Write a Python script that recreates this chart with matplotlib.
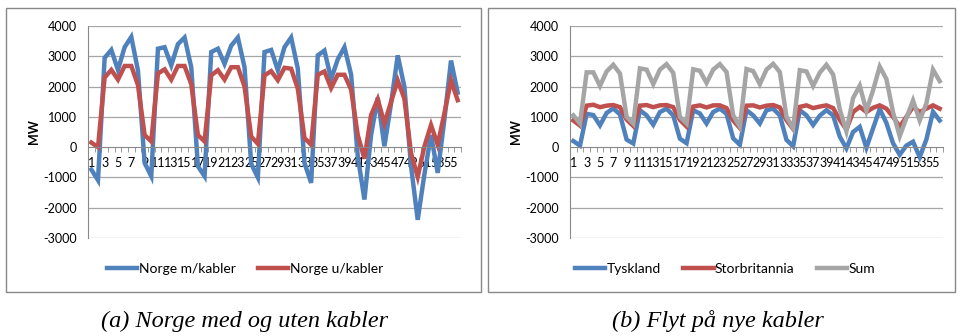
import matplotlib
matplotlib.use('Agg')
import matplotlib.pyplot as plt
from matplotlib.patches import Rectangle
import numpy as np

# Colours (Excel-style theme)
BLUE = '#4F81BD'
RED = '#C0504D'
GRAY = '#A5A5A5'
GRID = '#A6A6A6'
AXIS = '#888888'

plt.rcParams['font.family'] = ['Lato', 'DejaVu Sans']

# Data (MW), 56 periods
periods = list(range(1, 57))

norge_m_kabler = [-740, -1090, 2950, 3210, 2550, 3300, 3640, 2530,
                  -520, -960, 3250, 3300, 2700, 3400, 3620, 2640,
                  -630, -960, 3140, 3250, 2750, 3350, 3620, 2640,
                  -550, -1000, 3140, 3210, 2540, 3300, 3620, 2590,
                  -520, -1180, 3030, 3190, 2250, 2900, 3300, 2400,
                  -300, -1730, 400, 1630, 30, 1440, 3030, 1990,
                  -630, -2400, -900, 400, -850, 900, 2860, 1800]

norge_u_kabler = [150, 0, 2300, 2550, 2230, 2680, 2680, 2050,
                  400, 190, 2430, 2570, 2230, 2680, 2680, 2080,
                  400, 190, 2370, 2540, 2230, 2640, 2640, 2000,
                  350, 110, 2370, 2510, 2210, 2620, 2590, 1930,
                  300, 80, 2390, 2500, 1950, 2390, 2390, 1900,
                  400, -380, 1060, 1580, 780, 1500, 2200, 1600,
                  -200, -980, 20, 730, 80, 1110, 2200, 1550]

tyskland = [200, 50, 1100, 1060, 720, 1130, 1280, 1080,
            250, 120, 1220, 1050, 740, 1160, 1270, 1050,
            280, 130, 1220, 1110, 780, 1160, 1270, 1100,
            290, 80, 1220, 1050, 780, 1220, 1270, 1050,
            240, 30, 1220, 1050, 730, 1040, 1220, 1050,
            350, -40, 500, 670, -20, 620, 1260, 800,
            130, -250, 50, 180, -330, 250, 1170, 880]

storbritannia = [880, 710, 1370, 1400, 1320, 1370, 1390, 1320,
                 910, 700, 1370, 1390, 1320, 1380, 1390, 1320,
                 900, 680, 1340, 1380, 1310, 1380, 1380, 1290,
                 880, 630, 1370, 1380, 1310, 1370, 1390, 1310,
                 890, 600, 1330, 1380, 1290, 1340, 1380, 1290,
                 900, 580, 1160, 1330, 1160, 1300, 1380, 1270,
                 1000, 670, 1000, 1330, 1160, 1270, 1380, 1270]

sum_flyt = [1050, 780, 2470, 2470, 2020, 2500, 2720, 2430,
            1000, 780, 2600, 2560, 2080, 2560, 2740, 2450,
            1000, 780, 2570, 2520, 2120, 2560, 2740, 2480,
            1050, 680, 2580, 2510, 2080, 2560, 2750, 2480,
            1000, 620, 2540, 2500, 2020, 2460, 2720, 2400,
            1250, 520, 1620, 2030, 1200, 1880, 2660, 2250,
            1150, 360, 960, 1540, 880, 1440, 2560, 2180]

y_ticks = [-3000, -2000, -1000, 0, 1000, 2000, 3000, 4000]
x_tick_labels = [str(p) for p in periods if p % 2 == 1]

captions = ['(a) Norge med og uten kabler', '(b) Flyt på nye kabler']

W, H = 958, 336
fig = plt.figure(figsize=(W / 100, H / 100), dpi=100)


def style_axes(ax):
    ax.set_xlim(0.5, 56.5)
    ax.set_ylim(-3000, 4000)
    ax.set_yticks(y_ticks)
    ax.set_yticklabels([str(v) for v in y_ticks], fontsize=9)
    ax.tick_params(axis='y', length=0, pad=8)
    for v in y_ticks:
        if v != 0:
            ax.axhline(v, color=GRID, lw=0.9, zorder=0)
    for s in ['top', 'right']:
        ax.spines[s].set_visible(False)
    ax.spines['left'].set_color(AXIS)
    ax.spines['bottom'].set_color(AXIS)
    ax.spines['bottom'].set_position(('data', 0))
    ax.set_xticks([p for p in periods if p % 2 == 1])
    ax.set_xticklabels(x_tick_labels, fontsize=9)
    ax.set_xticks(np.arange(0.5, 57, 1), minor=True)
    ax.tick_params(axis='x', which='major', length=0, pad=7)
    ax.tick_params(axis='x', which='minor', length=3.5, color=AXIS, direction='out')
    ax.set_ylabel('MW', fontsize=9, fontweight='bold')
    ax.yaxis.set_label_coords(-0.128, 0.5)


# Chart area borders
fig.patches.append(Rectangle((6 / W, 1 - 292 / H), 475 / W, 284 / H, transform=fig.transFigure,
                             fill=False, edgecolor=AXIS, lw=1))
fig.patches.append(Rectangle((488 / W, 1 - 292 / H), 467 / W, 284 / H, transform=fig.transFigure,
                             fill=False, edgecolor=AXIS, lw=1))

ax_b = 1 - 238 / H
ax_h = 212 / H

# (a) Norge med og uten kabler
ax1 = fig.add_axes([88 / W, ax_b, 373 / W, ax_h])
style_axes(ax1)
ax1.plot(periods, norge_m_kabler, color=BLUE, lw=3.2, label='Norge m/kabler', solid_joinstyle='miter')
ax1.plot(periods, norge_u_kabler, color=RED, lw=3.2, label='Norge u/kabler', solid_joinstyle='miter')
ax1.legend(loc='center', bbox_to_anchor=(245 / W, 1 - 269 / H), bbox_transform=fig.transFigure,
           ncol=2, frameon=False, fontsize=10, handlelength=2.2, handletextpad=0.1,
           columnspacing=1.6)

# (b) Flyt på nye kabler
ax2 = fig.add_axes([570 / W, ax_b, 373 / W, ax_h])
style_axes(ax2)
ax2.plot(periods, tyskland, color=BLUE, lw=3.2, label='Tyskland', solid_joinstyle='miter')
ax2.plot(periods, storbritannia, color=RED, lw=3.2, label='Storbritannia', solid_joinstyle='miter')
ax2.plot(periods, sum_flyt, color=GRAY, lw=3.2, label='Sum', solid_joinstyle='miter')
ax2.legend(loc='center', bbox_to_anchor=(725 / W, 1 - 269 / H), bbox_transform=fig.transFigure,
           ncol=3, frameon=False, fontsize=10, handlelength=2.2, handletextpad=0.1,
           columnspacing=1.6)

# Captions
fig.text(245 / W, 1 - 321 / H, captions[0], ha='center', va='center', fontsize=17.5,
         family='Liberation Serif', style='italic')
fig.text(718 / W, 1 - 321 / H, captions[1], ha='center', va='center', fontsize=17.5,
         family='Liberation Serif', style='italic')

fig.savefig('out.png', dpi=100)
